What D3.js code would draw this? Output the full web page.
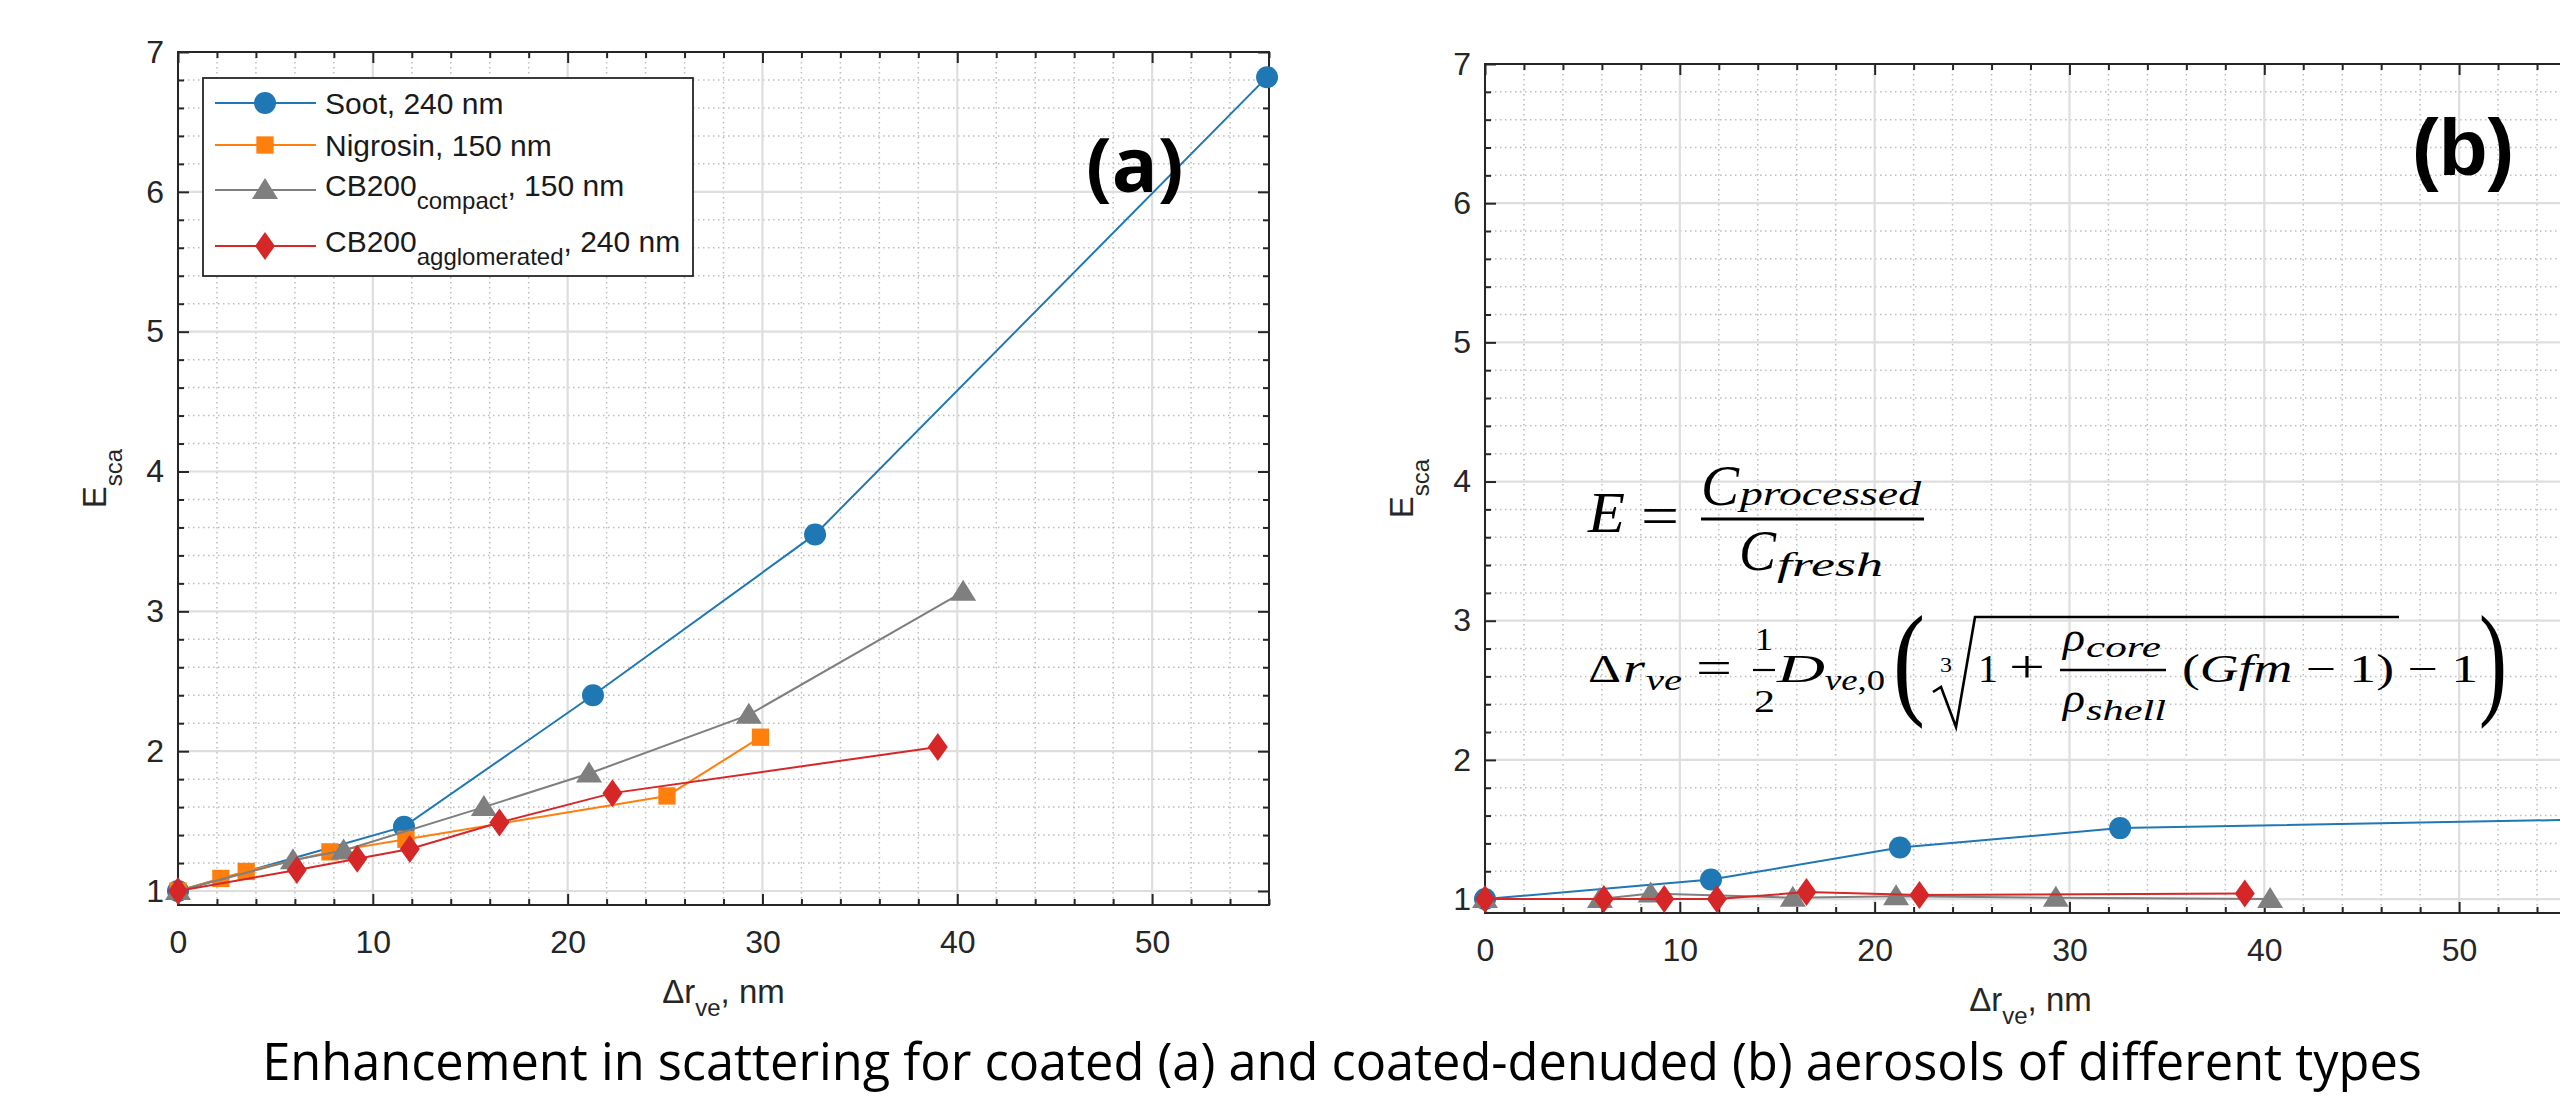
<!DOCTYPE html>
<html>
<head>
<meta charset="utf-8">
<script src="https://cdn.jsdelivr.net/npm/d3@7"></script>
<style>
  html, body { margin: 0; padding: 0; background: #fff; overflow: hidden; }
  svg { display: block; }
</style>
</head>
<body>
<div id="root"></div>
<script>
// ---- data ----
const xTicks = [0, 10, 20, 30, 40, 50];
const yTicks = [1, 2, 3, 4, 5, 6, 7];
const xDomain = [0, 56];
const yDomain = [0.9, 7];

const colors = { soot: "#1f77b4", nigrosin: "#ff7f0e", compact: "#7f7f7f", agglom: "#d62728" };

// panel (a): coated
const sootA_x = [0, 11.6, 21.3, 32.7, 55.9];
const sootA_y = [1, 1.46, 2.40, 3.55, 6.82];
const nigA_x = [0, 2.2, 3.5, 7.8, 11.7, 25.1, 29.9];
const nigA_y = [1, 1.09, 1.14, 1.28, 1.37, 1.68, 2.10];
const compA_x = [0, 5.9, 8.5, 15.7, 21.1, 29.3, 40.3];
const compA_y = [1, 1.22, 1.29, 1.60, 1.84, 2.26, 3.14];
const aggA_x = [0, 6.1, 9.2, 11.9, 16.5, 22.3, 39.0];
const aggA_y = [1, 1.15, 1.23, 1.30, 1.49, 1.70, 2.03];

// panel (b): coated-denuded
const sootB_x = [0, 11.6, 21.3, 32.6, 55.9];
const sootB_y = [1, 1.14, 1.37, 1.51, 1.57];
const compB_x = [0, 5.9, 8.5, 15.8, 21.1, 29.3, 40.3];
const compB_y = [1, 1.0, 1.04, 1.01, 1.02, 1.01, 1.0];
const aggB_x = [0, 6.1, 9.2, 11.9, 16.5, 22.3, 39.0];
const aggB_y = [1, 1.0, 1.0, 1.0, 1.05, 1.03, 1.04];

const legendLabels = [
  { key: "soot", main: "Soot, 240 nm" },
  { key: "nigrosin", main: "Nigrosin, 150 nm" },
  { key: "compact", main: "CB200", sub: "compact", rest: ", 150 nm" },
  { key: "agglom", main: "CB200", sub: "agglomerated", rest: ", 240 nm" }
];

const caption = "Enhancement in scattering for coated (a) and coated-denuded (b) aerosols of different types";

// ---- setup ----
const sans = "'Liberation Sans', Arial, Helvetica, sans-serif";
const serif = "'Liberation Serif', 'Times New Roman', serif";
const axisColor = "#262626";

const svg = d3.select("#root").append("svg")
  .attr("width", 2560).attr("height", 1096)
  .style("font-family", sans);

svg.append("rect").attr("width", 2560).attr("height", 1096).attr("fill", "#fff");

// marker shapes, centred on the point
const markerPath = {
  soot: d3.symbol(d3.symbolCircle, Math.PI * 121)(),
  nigrosin: d3.symbol(d3.symbolSquare, 300)(),
  compact: "M0,-12L13,9L-13,9Z",
  agglom: "M0,-14L10,0L0,14L-10,0Z"
};

const xMinor = d3.range(0, 57, 2).filter(v => v % 10 !== 0);
const yMinor = d3.range(1, 7, 0.2).map(v => +v.toFixed(1)).filter(v => v % 1 !== 0);

function drawPanel(box, series) {
  const x = d3.scaleLinear().domain(xDomain).range([box.left, box.right]);
  const y = d3.scaleLinear().domain(yDomain).range([box.bottom, box.top]);
  const g = svg.append("g");

  // minor grid (dotted)
  const minor = g.append("g")
    .attr("stroke", "#bdbdbd").attr("stroke-width", 1.5).attr("stroke-dasharray", "1.5 3.5");
  minor.selectAll(".vx").data(xMinor).join("line")
    .attr("x1", d => x(d)).attr("x2", d => x(d)).attr("y1", box.top).attr("y2", box.bottom);
  minor.selectAll(".hy").data(yMinor).join("line")
    .attr("y1", d => y(d)).attr("y2", d => y(d)).attr("x1", box.left).attr("x2", box.right);

  // major grid
  const major = g.append("g").attr("stroke", "#dedede").attr("stroke-width", 2.2);
  major.selectAll(".vx").data(xTicks).join("line")
    .attr("x1", d => x(d)).attr("x2", d => x(d)).attr("y1", box.top).attr("y2", box.bottom);
  major.selectAll(".hy").data(yTicks).join("line")
    .attr("y1", d => y(d)).attr("y2", d => y(d)).attr("x1", box.left).attr("x2", box.right);

  // axes, ticks pointing inward on all four sides
  const styleAxis = a => {
    a.select(".domain").remove();
    a.attr("font-size", 32).attr("font-family", sans);
    a.selectAll("line").attr("stroke", axisColor).attr("stroke-width", 2);
    a.selectAll("text").attr("fill", axisColor);
  };
  const fmt = d3.format("d");
  g.append("g").attr("transform", `translate(0,${box.bottom})`)
    .call(d3.axisBottom(x).tickValues(xTicks).tickFormat(fmt).tickSize(-11).tickPadding(25)).call(styleAxis);
  g.append("g").attr("transform", `translate(0,${box.bottom})`)
    .call(d3.axisBottom(x).tickValues(xMinor).tickSize(-6).tickFormat("")).call(styleAxis);
  g.append("g").attr("transform", `translate(0,${box.top})`)
    .call(d3.axisTop(x).tickValues(xTicks).tickSize(-11).tickFormat("")).call(styleAxis);
  g.append("g").attr("transform", `translate(0,${box.top})`)
    .call(d3.axisTop(x).tickValues(xMinor).tickSize(-6).tickFormat("")).call(styleAxis);
  g.append("g").attr("transform", `translate(${box.left},0)`)
    .call(d3.axisLeft(y).tickValues(yTicks).tickFormat(fmt).tickSize(-11).tickPadding(14)).call(styleAxis);
  g.append("g").attr("transform", `translate(${box.left},0)`)
    .call(d3.axisLeft(y).tickValues(yMinor).tickSize(-6).tickFormat("")).call(styleAxis);
  g.append("g").attr("transform", `translate(${box.right},0)`)
    .call(d3.axisRight(y).tickValues(yTicks).tickSize(-11).tickFormat("")).call(styleAxis);
  g.append("g").attr("transform", `translate(${box.right},0)`)
    .call(d3.axisRight(y).tickValues(yMinor).tickSize(-6).tickFormat("")).call(styleAxis);

  g.append("rect")
    .attr("x", box.left).attr("y", box.top)
    .attr("width", box.right - box.left).attr("height", box.bottom - box.top)
    .attr("fill", "none").attr("stroke", axisColor).attr("stroke-width", 2);

  // series
  const line = d3.line().x(d => x(d[0])).y(d => y(d[1]));
  series.forEach(s => {
    const pts = d3.zip(s.xs, s.ys);
    g.append("path").datum(pts)
      .attr("d", line).attr("fill", "none")
      .attr("stroke", colors[s.key]).attr("stroke-width", 2);
    g.append("g").selectAll("path").data(pts).join("path")
      .attr("d", markerPath[s.key])
      .attr("transform", d => `translate(${x(d[0])},${y(d[1])})`)
      .attr("fill", colors[s.key]);
  });

  // axis labels
  const xl = g.append("text")
    .attr("x", (box.left + box.right) / 2).attr("y", box.bottom + 98)
    .attr("text-anchor", "middle").attr("font-size", 33).attr("fill", axisColor);
  xl.append("tspan").text("\u0394r");
  xl.append("tspan").attr("font-size", 24).attr("dy", 13).text("ve");
  xl.append("tspan").attr("dy", -13).text(", nm");

  const yl = g.append("text")
    .attr("transform", `translate(${box.left - 72},${(box.top + box.bottom) / 2}) rotate(-90)`)
    .attr("text-anchor", "middle").attr("font-size", 33).attr("fill", axisColor);
  yl.append("tspan").text("E");
  yl.append("tspan").attr("font-size", 24).attr("dy", 16).text("sca");

  return { g, x, y };
}

// ---- panel (a) ----
const A = drawPanel({ left: 178, right: 1269, top: 52, bottom: 905 }, [
  { key: "soot", xs: sootA_x, ys: sootA_y },
  { key: "nigrosin", xs: nigA_x, ys: nigA_y },
  { key: "compact", xs: compA_x, ys: compA_y },
  { key: "agglom", xs: aggA_x, ys: aggA_y }
]);

// legend
const leg = A.g.append("g");
leg.append("rect").attr("x", 203).attr("y", 78).attr("width", 490).attr("height", 198)
  .attr("fill", "#fff").attr("stroke", axisColor).attr("stroke-width", 1.8);
const legY = [103, 145, 190, 246];
legendLabels.forEach((d, i) => {
  const row = leg.append("g").attr("transform", `translate(0,${legY[i]})`);
  row.append("line").attr("x1", 215).attr("x2", 316)
    .attr("stroke", colors[d.key]).attr("stroke-width", 2);
  row.append("path").attr("d", markerPath[d.key])
    .attr("transform", "translate(265,0)").attr("fill", colors[d.key]);
  const t = row.append("text").attr("x", 325).attr("y", d.sub ? 6 : 11)
    .attr("font-size", 30).attr("fill", "#1a1a1a");
  t.append("tspan").text(d.main);
  if (d.sub) {
    t.append("tspan").attr("font-size", 24).attr("dy", 13).text(d.sub);
    t.append("tspan").attr("dy", -13).text(d.rest);
  }
});

A.g.append("text").attr("x", 1086).attr("y", 192)
  .attr("font-family", "'Open Sans', sans-serif").attr("font-weight", 700)
  .attr("font-size", 76).attr("fill", "#000").text("(a)");

// ---- panel (b) ----
const B = drawPanel({ left: 1485, right: 2576, top: 64, bottom: 913 }, [
  { key: "soot", xs: sootB_x, ys: sootB_y },
  { key: "compact", xs: compB_x, ys: compB_y },
  { key: "agglom", xs: aggB_x, ys: aggB_y }
]);

B.g.append("text").attr("x", 2412).attr("y", 175)
  .attr("font-family", sans).attr("font-weight", 700)
  .attr("font-size", 80).attr("fill", "#000").text("(b)");

// formulas (LaTeX-style annotation)
const fg = B.g.append("g").attr("font-family", serif).attr("fill", "#000");
function ftxt(x, y, size, len, parts) {
  const t = fg.append("text").attr("x", x).attr("y", y).attr("font-size", size)
    .attr("textLength", len).attr("lengthAdjust", "spacingAndGlyphs");
  parts.forEach(p => {
    const s = t.append("tspan").text(p.t);
    if (p.i) s.attr("font-style", "italic");
  });
  return t;
}
function fbar(x1, x2, y, w) {
  fg.append("line").attr("x1", x1).attr("x2", x2).attr("y1", y).attr("y2", y)
    .attr("stroke", "#000").attr("stroke-width", w);
}

// E = C_processed / C_fresh
ftxt(1588, 532, 58, 37, [{ t: "E", i: 1 }]);
ftxt(1641, 535, 56, 38, [{ t: "=" }]);
fbar(1701, 1924, 519, 3);
ftxt(1701, 505, 58, 38, [{ t: "C", i: 1 }]);
ftxt(1740, 505, 34, 181, [{ t: "processed", i: 1 }]);
ftxt(1739, 570, 58, 37, [{ t: "C", i: 1 }]);
ftxt(1777, 576, 34, 106, [{ t: "fresh", i: 1 }]);

// Δr_ve = 1/2 D_ve,0 ( cuberoot(1 + ρcore/ρshell (Gfm − 1)) − 1 )
ftxt(1588, 682, 40, 33, [{ t: "\u0394" }]);
ftxt(1623, 682, 40, 22, [{ t: "r", i: 1 }]);
ftxt(1646, 690, 30, 36, [{ t: "ve", i: 1 }]);
ftxt(1696, 683, 46, 36, [{ t: "=" }]);
ftxt(1755, 650, 32, 18, [{ t: "1" }]);
fbar(1753, 1775, 670, 2.2);
ftxt(1754, 712, 32, 21, [{ t: "2" }]);
ftxt(1777, 682, 40, 48, [{ t: "D", i: 1 }]);
ftxt(1825, 690, 30, 60, [{ t: "ve", i: 1 }, { t: ",0" }]);
ftxt(1893, 702, 124, 32, [{ t: "(" }]).attr("font-weight", 300);
ftxt(1940, 672, 20, 12, [{ t: "3" }]);
fg.append("path")
  .attr("d", "M1933,692L1941,687L1956,727L1975,617L2399,617")
  .attr("fill", "none").attr("stroke", "#000").attr("stroke-width", 2.6);
ftxt(1978, 682, 40, 20, [{ t: "1" }]);
ftxt(2009, 682, 46, 36, [{ t: "+" }]);
fbar(2060, 2166, 670, 2.6);
ftxt(2063, 651, 40, 22, [{ t: "\u03c1", i: 1 }]);
ftxt(2086, 657, 30, 75, [{ t: "core", i: 1 }]);
ftxt(2063, 712, 40, 22, [{ t: "\u03c1", i: 1 }]);
ftxt(2086, 720, 30, 80, [{ t: "shell", i: 1 }]);
ftxt(2182, 682, 40, 296, [{ t: "(" }, { t: "Gfm", i: 1 }, { t: " \u2212 1) \u2212 1" }]);
ftxt(2479, 702, 124, 28, [{ t: ")" }]);

// ---- caption ----
svg.append("text").attr("x", 1342).attr("y", 1080)
  .attr("text-anchor", "middle")
  .attr("font-family", "'Open Sans', sans-serif").attr("font-size", 50.5)
  .attr("fill", "#000").text(caption);
</script>
</body>
</html>
